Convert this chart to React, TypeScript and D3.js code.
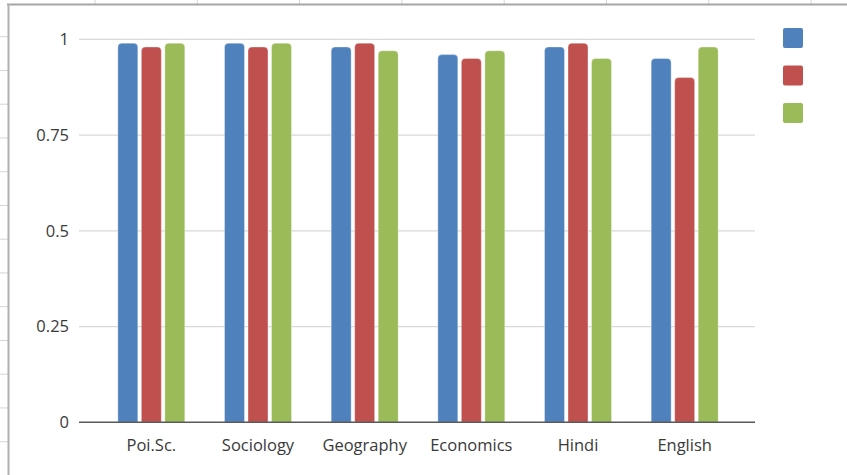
import { useEffect, useRef } from "react";
import * as d3 from "d3";

const W = 847;
const H = 475;
const CATEGORIES: string[] = ["Poi.Sc.", "Sociology", "Geography", "Economics", "Hindi", "English"];
const SERIES_A: number[] = [0.99, 0.99, 0.98, 0.96, 0.98, 0.95];
const SERIES_B: number[] = [0.98, 0.98, 0.99, 0.95, 0.99, 0.9];
const SERIES_C: number[] = [0.99, 0.99, 0.97, 0.97, 0.95, 0.98];
const Y_TICKS: number[] = [0, 0.25, 0.5, 0.75, 1];
const Y_TICK_LABELS: string[] = ["0", "0.25", "0.5", "0.75", "1"];
const COLORS: string[] = ["#4f81bd", "#c0504d", "#9bbb59"];
const FONT = "'Open Sans', Lato, sans-serif";

// path for a bar with rounded top corners
const roundTop = (x: number, y: number, w: number, h: number, r: number) => {
  r = Math.min(r, w / 2, h);
  return `M${x},${y + h}V${y + r}Q${x},${y} ${x + r},${y}H${x + w - r}Q${x + w},${y} ${x + w},${y + r}V${y + h}Z`;
};

const App = () => {
  const svgRef = useRef<SVGSVGElement | null>(null);

  useEffect(() => {
    if (!svgRef.current) return;
    const svg = d3.select(svgRef.current).attr("width", W).attr("height", H);
    svg.selectAll("*").remove();

    svg.append("rect").attr("width", W).attr("height", H).attr("fill", "#ffffff");

    // spreadsheet grid behind the chart
    const bg = svg.append("g");
    d3.range(0, 8).forEach((i) => {
      const x = 95 + i * 102.3;
      bg.append("line").attr("x1", x).attr("x2", x).attr("y1", 0).attr("y2", 4)
        .attr("stroke", "#d4d4d4");
    });
    d3.range(0, 13).forEach((i) => {
      const y = 36.7 + i * 33.75;
      bg.append("line").attr("x1", 0).attr("x2", 8).attr("y1", y).attr("y2", y)
        .attr("stroke", "#d4d4d4");
    });
    // chart frame
    bg.append("line").attr("x1", 7).attr("x2", W).attr("y1", 4.5).attr("y2", 4.5)
      .attr("stroke", "#a6a6a6").attr("stroke-width", 2);
    bg.append("line").attr("x1", 8.5).attr("x2", 8.5).attr("y1", 4).attr("y2", H)
      .attr("stroke", "#b0b0b0").attr("stroke-width", 2);

    const y = d3.scaleLinear().domain([0, 1]).range([422.3, 39.3]);
    const x0 = d3.scaleBand<string>().domain(CATEGORIES).range([98, 738])
      .paddingInner(0.372).paddingOuter(0.186);
    const x1 = d3.scaleBand<number>().domain([0, 1, 2]).range([0, x0.bandwidth()])
      .paddingInner(0.15);

    const plotL = 79;
    const plotR = 755;

    // gridlines
    svg.append("g").selectAll("line").data(Y_TICKS.filter((t) => t > 0)).join("line")
      .attr("x1", plotL).attr("x2", plotR)
      .attr("y1", (d) => y(d)).attr("y2", (d) => y(d))
      .attr("stroke", "#d9d9d9").attr("stroke-width", 1.3);

    // y labels
    svg.append("g").selectAll("text").data(Y_TICKS).join("text")
      .attr("x", 69).attr("y", (d) => y(d)).attr("dy", "0.35em")
      .attr("text-anchor", "end").attr("font-family", FONT).attr("font-size", 16.5)
      .attr("fill", "#3a3a3a").text((_, i) => Y_TICK_LABELS[i]);

    // bars
    const series = [SERIES_A, SERIES_B, SERIES_C];
    const groups = svg.append("g").selectAll("g").data(CATEGORIES).join("g")
      .attr("transform", (d) => `translate(${x0(d)},0)`);
    groups.selectAll("path")
      .data((_, ci) => series.map((s, si) => ({ si, v: s[ci] })))
      .join("path")
      .attr("d", (d) => roundTop(x1(d.si)!, y(d.v), x1.bandwidth(), y(0) - y(d.v), 4))
      .attr("fill", (d) => COLORS[d.si])
      .attr("stroke", "#ffffff").attr("stroke-opacity", 0.35).attr("stroke-width", 1);

    // x axis line
    svg.append("line").attr("x1", plotL).attr("x2", plotR).attr("y1", y(0)).attr("y2", y(0))
      .attr("stroke", "#595959").attr("stroke-width", 1.5);

    // x labels
    svg.append("g").selectAll("text").data(CATEGORIES).join("text")
      .attr("x", (d) => x0(d)! + x0.bandwidth() / 2).attr("y", 450.5)
      .attr("text-anchor", "middle").attr("font-family", FONT).attr("font-size", 16.5)
      .attr("fill", "#3a3a3a").text((d) => d);

    // legend (no series names)
    svg.append("g").selectAll("rect").data(COLORS).join("rect")
      .attr("x", 783).attr("y", (_, i) => 28 + i * 37.5)
      .attr("width", 20).attr("height", 20).attr("rx", 2)
      .attr("fill", (d) => d);
  }, []);

  return (
    <div style={{ position: "absolute", left: 0, top: 0 }}>
      <svg ref={svgRef} style={{ display: "block" }} />
    </div>
  );
};

export default App;
